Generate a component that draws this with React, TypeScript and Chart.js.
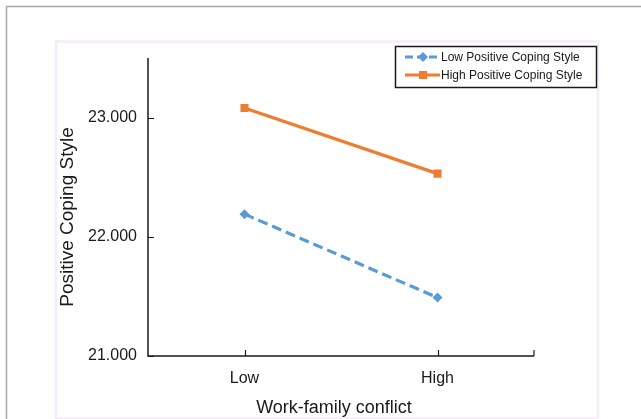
import React, { useEffect, useRef } from "react";
import { Chart, registerables } from "chart.js";

Chart.register(...registerables);

const categories = ["Low", "High"];
const lowCopingValues = [22.19, 21.49];
const highCopingValues = [23.08, 22.53];
const yTickValues = [21, 22, 23];
const seriesNames = ["Low Positive Coping Style", "High Positive Coping Style"];
const xTitle = "Work-family conflict";
const yTitle = "Positive Coping Style";

const BLUE = "#5B9BD5";
const ORANGE = "#ED7D31";
const FONT = "'Liberation Sans', Arial, sans-serif";

const decorPlugin = {
  id: "decor",
  beforeDraw(chart: any) {
    const ctx = chart.ctx;
    ctx.save();
    ctx.fillStyle = "#ffffff";
    ctx.fillRect(0, 0, chart.width, chart.height);
    // outer gray frame
    ctx.strokeStyle = "#a8a8a8";
    ctx.lineWidth = 1.5;
    ctx.beginPath();
    ctx.moveTo(6.5, chart.height);
    ctx.lineTo(6.5, 6.5);
    ctx.lineTo(chart.width, 6.5);
    ctx.stroke();
    // inner lavender frame
    ctx.strokeStyle = "#f5ecfc";
    ctx.lineWidth = 2.5;
    ctx.strokeRect(56, 41.5, 542, 377);
    ctx.restore();
  },
  afterDraw(chart: any) {
    const ctx = chart.ctx;
    const { left, right, top, bottom } = chart.chartArea;
    const xs = chart.scales.x;
    const ys = chart.scales.y;
    ctx.save();
    // axes
    ctx.strokeStyle = "#1a1a1a";
    ctx.lineWidth = 1.5;
    ctx.beginPath();
    ctx.moveTo(left, top);
    ctx.lineTo(left, bottom);
    ctx.lineTo(right, bottom);
    ctx.stroke();
    ctx.lineWidth = 1.2;
    ctx.beginPath();
    yTickValues.forEach((v) => {
      const y = Math.round(ys.getPixelForValue(v)) + 0.5;
      ctx.moveTo(left, y);
      ctx.lineTo(left + 6, y);
    });
    categories.forEach((_, i) => {
      const x = Math.round(xs.getPixelForValue(i)) + 0.5;
      ctx.moveTo(x, bottom);
      ctx.lineTo(x, bottom - 6);
    });
    ctx.moveTo(right, bottom);
    ctx.lineTo(right, bottom - 6);
    ctx.stroke();

    // axis titles
    ctx.fillStyle = "#1a1a1a";
    ctx.font = `18px ${FONT}`;
    ctx.textAlign = "center";
    ctx.textBaseline = "middle";
    ctx.fillText(xTitle, (left + right) / 2 - 7, 408);
    ctx.save();
    ctx.font = `19px ${FONT}`;
    ctx.translate(68, 217);
    ctx.rotate(-Math.PI / 2);
    ctx.fillText(yTitle, 0, 0);
    ctx.restore();

    // legend
    const bx = 395.5, by = 46.5, bw = 201, bh = 41;
    ctx.strokeStyle = "#1a1a1a";
    ctx.lineWidth = 1.5;
    ctx.fillStyle = "#ffffff";
    ctx.fillRect(bx, by, bw, bh);
    ctx.strokeRect(bx, by, bw, bh);
    const rows = [57, 75];
    // blue row
    ctx.strokeStyle = BLUE;
    ctx.lineWidth = 3;
    ctx.setLineDash([8, 4]);
    ctx.beginPath();
    ctx.moveTo(405, rows[0]);
    ctx.lineTo(440, rows[0]);
    ctx.stroke();
    ctx.setLineDash([]);
    ctx.fillStyle = BLUE;
    ctx.beginPath();
    ctx.moveTo(423, rows[0] - 5);
    ctx.lineTo(428, rows[0]);
    ctx.lineTo(423, rows[0] + 5);
    ctx.lineTo(418, rows[0]);
    ctx.closePath();
    ctx.fill();
    // orange row
    ctx.strokeStyle = ORANGE;
    ctx.beginPath();
    ctx.moveTo(405, rows[1]);
    ctx.lineTo(440, rows[1]);
    ctx.stroke();
    ctx.fillStyle = ORANGE;
    ctx.fillRect(419, rows[1] - 4, 8, 8);
    ctx.fillStyle = "#1a1a1a";
    ctx.font = `12px ${FONT}`;
    ctx.textAlign = "left";
    ctx.textBaseline = "middle";
    ctx.fillText(seriesNames[0], 441, rows[0] + 1);
    ctx.fillText(seriesNames[1], 441, rows[1] + 1);
    ctx.restore();
  },
};

export default function App() {
  const ref = useRef<HTMLCanvasElement>(null);
  useEffect(() => {
    if (!ref.current) return;
    const chart = new Chart(ref.current, {
      type: "line",
      data: {
        labels: categories,
        datasets: [
          {
            label: seriesNames[0],
            data: lowCopingValues,
            borderColor: BLUE,
            backgroundColor: BLUE,
            borderWidth: 3.2,
            borderDash: [10, 5],
            pointStyle: "rectRot",
            pointRadius: 5,
            pointBorderWidth: 0,
            tension: 0,
          },
          {
            label: seriesNames[1],
            data: highCopingValues,
            borderColor: ORANGE,
            backgroundColor: ORANGE,
            borderWidth: 3.2,
            pointStyle: "rect",
            pointRadius: 5.7,
            pointBorderWidth: 0,
            tension: 0,
          },
        ],
      },
      options: {
        responsive: false,
        animation: false,
        layout: { padding: { left: 0, right: 107, top: 58, bottom: 0 } },
        plugins: {
          legend: { display: false },
          tooltip: { enabled: false },
        },
        scales: {
          x: {
            offset: true,
            grid: { display: false, drawTicks: false },
            border: { display: false },
            ticks: {
              padding: 13,
              color: "#1a1a1a",
              font: { family: FONT, size: 16 },
            },
            afterFit: (s: any) => {
              s.height = 63;
            },
          },
          y: {
            min: 21,
            max: 23.5,
            grid: { display: false, drawTicks: false },
            border: { display: false },
            afterBuildTicks: (s: any) => {
              s.ticks = yTickValues.map((v) => ({ value: v }));
            },
            ticks: {
              padding: 11,
              color: "#1a1a1a",
              font: { family: FONT, size: 16 },
              callback: (v: any) => Number(v).toFixed(3),
            },
            afterFit: (s: any) => {
              s.width = 148;
            },
          },
        },
      },
      plugins: [decorPlugin],
    });
    return () => chart.destroy();
  }, []);
  return (
    <div style={{ position: "fixed", left: 0, top: 0, width: 641, height: 419 }}>
      <canvas ref={ref} width={641} height={419} style={{ display: "block" }} />
    </div>
  );
}
